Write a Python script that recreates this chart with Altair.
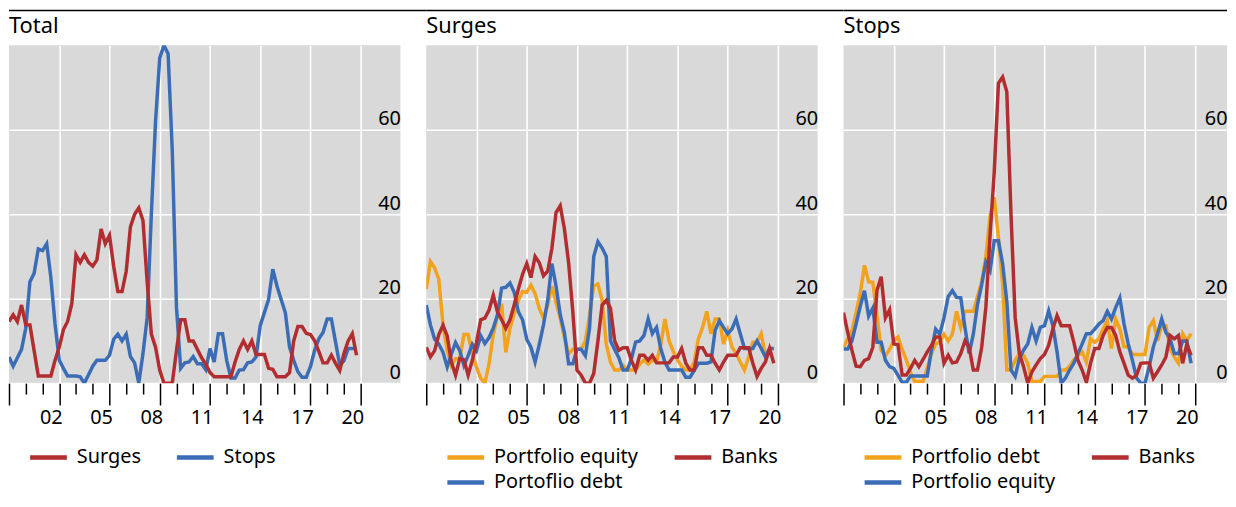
import altair as alt
import pandas as pd

# quarterly observations, 2000 Q1 .. 2020 Q4 (decimal years)
quarters = [2000 + q / 4 for q in range(84)]

# ---- Total ----
total_surges = [14.6, 16.2, 14.6, 18.5, 13.8, 13.8, 7.7, 1.7, 1.7, 1.7, 1.7, 5.4, 8.5, 12.7, 14.6, 18.8,
                30.4, 28.6, 30.4, 28.6, 27.7, 29.2, 36.5, 33, 35, 27.7, 21.7, 21.7, 26.5, 37, 40, 41.5,
                38.5, 24, 11.6, 8.5, 3.1, 0, 0, 0, 7.7, 15, 15, 10, 10, 8, 6, 4.5,
                2.5, 1.5, 1.5, 1.5, 1.5, 1.5, 5, 8, 10, 8, 10, 6.8, 6.8, 6.8, 3.5, 3.3,
                1.5, 1.5, 1.5, 2.5, 10, 13.4, 13.4, 11.8, 11.5, 10, 7.5, 4.8, 4.8, 6.6, 4.7, 3,
                7, 10, 11.7, 6.6]
total_stops = [6.2, 4, 6, 8, 13, 24, 26, 31.8, 31.4, 33, 25, 14, 5.5, 3.5, 1.7, 1.7,
               1.7, 1.5, 0, 2, 4, 5.4, 5.4, 5.4, 6.6, 10.4, 11.6, 10, 11.6, 6.3, 4.8, 0,
               7, 15.5, 40, 62, 77, 80, 78, 55, 18, 3.5, 4.8, 5, 6.3, 4.6, 4.6, 3.2,
               8.2, 5, 11.7, 11.7, 5.4, 1.2, 1.2, 3.1, 3.2, 4.8, 5, 6.2, 13.6, 16.7, 19.8, 27,
               23, 19.8, 16.7, 8.6, 5.4, 2.7, 1.4, 1.4, 3.9, 7.8, 10.5, 12, 15.2, 15.2, 9.7, 4.3,
               5.3, 8.2, 8.2, 8.2]

# ---- Surges ----
surges_equity = [22.3, 28.8, 27.3, 24.6, 13.8, 7.7, 4.2, 5.8, 5.8, 11.5, 11.5, 6.9, 3.8, 1.2, 0, 4.6,
                 11.5, 15.8, 18.8, 7.3, 13, 16.5, 19.6, 21.7, 21.5, 23.2, 21.2, 17.7, 15.4, 18.5, 23, 19,
                 15.4, 10.8, 6.9, 8, 8, 8, 10, 16, 23, 23.5, 19.6, 9.2, 5, 3.1, 3.1, 4.2,
                 3.1, 3.1, 3.1, 4.5, 5.5, 4.5, 5.5, 5, 9, 15.2, 10, 7.5, 5.5, 4, 3.1, 3.1,
                 5, 10.5, 13.2, 17, 11.7, 15.2, 15.2, 9.3, 12.5, 8.6, 7, 5, 3.1, 6.2, 9.7, 9.7,
                 11.7, 6.6, 8.2, 8.2]
surges_debt = [18.5, 13.8, 10.4, 9.2, 7.3, 3.8, 6.9, 9.6, 7.7, 4.2, 6.5, 9.2, 7.7, 11.2, 9.4, 10.8,
               13, 16.2, 22.5, 22.7, 23.7, 21.5, 16.9, 15, 10.4, 8.5, 5, 9.2, 13.8, 19.6, 28.3, 23,
               16.2, 11.9, 4.6, 4.6, 8, 8, 6.5, 13, 30, 33.5, 32, 30, 10, 8, 6, 3.1,
               3.1, 5.8, 9.7, 10, 11.3, 15.2, 11.7, 13.2, 8.2, 5, 3.1, 3.1, 3.1, 3.1, 1.4, 1.4,
               3, 4.7, 4.7, 4.7, 5, 12.5, 14.8, 13.2, 11.7, 12.8, 15.2, 11.7, 8.2, 8.2, 8.2, 10,
               8.2, 6.2, 8.2, 8.2]
surges_banks = [8.5, 6.2, 7.7, 11.5, 13.7, 11.2, 5, 1.9, 5.8, 5.5, 1.9, 5.4, 9.6, 15, 15.4, 17.3,
                20.8, 16.9, 15, 13, 15, 18.5, 22.3, 25.8, 28.3, 25, 30, 28.5, 25.4, 26.5, 31.9, 40.4,
                42, 36.5, 28.5, 17, 3.1, 1.9, 0, 0, 2.3, 10, 18.5, 19.6, 17.7, 10, 7.8, 8.4,
                8.4, 5.4, 3.1, 6.6, 6.6, 5.4, 6.6, 4.8, 4.8, 4.8, 4.8, 6.2, 6.2, 8.2, 4.7, 3.1,
                3.1, 8.4, 8.4, 6.6, 6.6, 4.7, 3.1, 5, 6.6, 6.6, 6.6, 8.4, 8.4, 8.4, 4.7, 1.6,
                3.5, 5, 8.2, 4.7]

# ---- Stops ----
stops_debt = [8.5, 10.5, 12.4, 16.7, 21.3, 27.9, 24, 23.9, 16, 7.8, 6.5, 8, 10, 10.9, 8, 5.5,
              2.5, 0.4, 0.4, 0.4, 3.5, 7, 9.3, 9.7, 11.6, 10, 11.6, 17, 13.2, 17, 17, 17,
              20.5, 24, 30, 39.5, 44, 34.5, 23.3, 3.1, 3.1, 5.4, 7, 6.6, 4.7, 0.4, 0.4, 0.4,
              1.6, 1.6, 1.6, 1.6, 3.1, 3.1, 4, 5.5, 6.5, 7.4, 5, 10.5, 9.7, 10.5, 12.8, 14.8,
              8.2, 15.2, 12.8, 8.6, 8.6, 6.8, 6.8, 6.8, 6.8, 13.2, 14.8, 10, 13.6, 13.6, 8.2, 6.2,
              4.7, 11.7, 10, 11.7]
stops_equity = [8.1, 8.1, 10, 14, 18.2, 21.9, 15.9, 17.8, 9.7, 9.7, 5.4, 3.9, 3.5, 1.9, 0.2, 0.2,
                1.7, 1.7, 1.7, 1.7, 1.7, 7.8, 12.8, 11.6, 15.5, 20.5, 21.9, 20.3, 20.2, 13.2, 7, 11.6,
                18.6, 23.3, 28.7, 26.7, 33.7, 33.7, 28.3, 19.4, 3.1, 1.6, 5.8, 7.8, 9.3, 13.2, 10, 13.2,
                13.6, 17.1, 13.6, 7.4, 0, 1.2, 3.1, 4.7, 7, 9.3, 11.7, 11.7, 12.8, 14, 14.8, 17,
                15.2, 17.9, 20.2, 14, 9.3, 5.4, 1.2, 0, 0, 3.9, 8.6, 11.7, 15.2, 12, 10.5, 7,
                7, 10, 10, 4.7]
stops_banks = [16.7, 12, 7.8, 4, 3.9, 5.4, 5.8, 8.5, 22, 25.2, 15.5, 17.4, 9.3, 9.1, 1.9, 1.9,
               3.5, 5.4, 3.9, 5.6, 7.4, 8.9, 10.9, 10.9, 4.7, 6.6, 4.8, 5, 7, 10, 8.5, 3.1,
               3.1, 8.5, 18, 35, 50, 71, 72.5, 69, 40, 15.5, 7, 3.9, 0, 2.7, 4.3, 5.8,
               6.8, 9, 12.8, 16, 13.6, 13.6, 13.6, 9.7, 5.4, 3.1, 0.2, 4.7, 8.2, 8.2, 11.3, 13.2,
               13.2, 11.3, 7.4, 4.7, 1.9, 1.2, 1.9, 4.7, 4.8, 4.8, 1.2, 2.7, 4.3, 6.2, 11.3, 10.5,
               11.3, 4.7, 9.3, 6.6]

tick_years = list(range(2000, 2022))
y_ticks = [0, 20, 40, 60]

RED = "#b22d2f"
BLUE = "#3a6db5"
ORANGE = "#f2a21c"
GREY = "#d9d9d9"
FONT = "Noto Sans"

W = 394
W3 = 386
H = 340
GAP = 26
PX_PER_YEAR = 354 / 21
RULE_Y = -35


def panel(title, series, legend_order, legend_colors, width, rule_len):
    rows = []
    for name, vals in series:
        for t, v in zip(quarters, vals):
            rows.append({"t": t, "v": v, "s": name})
    df = pd.DataFrame(rows)
    xmax = 2000 + width / PX_PER_YEAR

    x_axis = alt.Axis(
        values=tick_years, title=None, domain=False,
        tickColor="black", tickWidth=1.5,
        tickSize={"condition": {"test": "datum.value % 3 == 2", "value": 22}, "value": 11},
        grid=True, gridColor="white", gridWidth=1.6,
        gridOpacity={"condition": {"test": "datum.value % 3 == 2 && datum.value > 2000", "value": 1}, "value": 0},
        labelExpr="datum.value % 3 == 1 ? substring(toString(datum.value), 2, 4) : ''",
        labelOffset=PX_PER_YEAR / 2, labelBaseline="alphabetic", labelPadding=30,
        labelFontSize=20, labelColor="black", labelFont=FONT, labelFlush=False,
        labelOverlap=False,
    )
    y_axis = alt.Axis(
        orient="right", values=y_ticks, title=None, domain=False, ticks=False,
        grid=True, gridColor="white", gridWidth=1.6,
        labelAlign="right", labelBaseline="alphabetic", labelPadding=0, labelOffset=-5,
        labelFontSize=20, labelColor="black", labelFont=FONT,
    )
    lines = alt.Chart(df).mark_line(strokeWidth=3.5, clip=True).encode(
        x=alt.X("t:Q", scale=alt.Scale(domain=[2000, xmax], nice=False, zero=False), axis=x_axis),
        y=alt.Y("v:Q", scale=alt.Scale(domain=[0, 80], nice=False), axis=y_axis),
        color=alt.Color(
            "s:N",
            scale=alt.Scale(domain=legend_order, range=legend_colors),
            legend=alt.Legend(
                title=None, orient="none", legendX=19, legendY=403, columns=2,
                symbolType="M-1,0L3,0", symbolSize=342.25, symbolStrokeWidth=4.5,
                labelFontSize=20, labelFont=FONT, labelColor="black", labelOffset=26.25,
                labelLimit=400, columnPadding=26.75, rowPadding=3.5, padding=0,
            ),
        ),
        order=alt.Order("t:Q"),
    )
    top_rule = alt.Chart(alt.Data(values=[{"a": 1}])).mark_rule(
        color="black", strokeWidth=1.5
    ).encode(x=alt.value(0), x2=alt.value(rule_len), y=alt.value(RULE_Y))
    title_text = alt.Chart(alt.Data(values=[{"label": title}])).mark_text(
        align="left", baseline="alphabetic", fontSize=22, font=FONT, color="black"
    ).encode(text="label:N", x=alt.value(0), y=alt.value(-12))

    return alt.layer(lines, top_rule, title_text).properties(width=width, height=H)


p1 = panel("Total", [("Stops", total_stops), ("Surges", total_surges)],
           ["Surges", "Stops"], [RED, BLUE], W, W + GAP)
p2 = panel("Surges", [("Portfolio equity", surges_equity), ("Portoflio debt", surges_debt),
                      ("Banks", surges_banks)],
           ["Portfolio equity", "Portoflio debt", "Banks"], [ORANGE, BLUE, RED], W, W + GAP)
p3 = panel("Stops", [("Portfolio debt", stops_debt), ("Portfolio equity", stops_equity),
                     ("Banks", stops_banks)],
           ["Portfolio debt", "Portfolio equity", "Banks"], [ORANGE, BLUE, RED], W3, W3)

chart = alt.hconcat(p1, p2, p3, spacing=GAP, bounds="flush").resolve_scale(
    color="independent"
).properties(padding=0).configure(font=FONT).configure_view(fill=GREY, strokeWidth=0)

chart.save("out.html", embed_options={"renderer": "svg", "actions": False})
